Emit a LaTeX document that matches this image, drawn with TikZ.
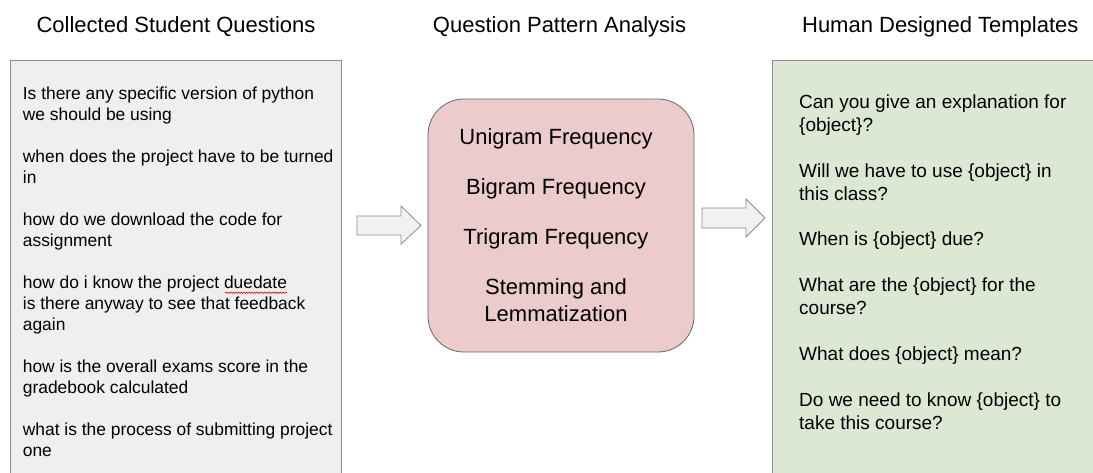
\documentclass[tikz,border=0pt]{standalone}
\usepackage{fontspec}
\setmainfont{Liberation Sans}
\usetikzlibrary{decorations.pathmorphing}
\definecolor{leftfill}{HTML}{EFEFEF}
\definecolor{midfill}{HTML}{EBCBCB}
\definecolor{rightfill}{HTML}{DCE8D4}
\definecolor{boxline}{HTML}{8C8C8C}
\definecolor{arrfill}{HTML}{F1F1F1}
\begin{document}
\begin{tikzpicture}[x=1pt,y=-1pt,
  title/.style={font=\fontsize{22}{26}\selectfont, anchor=base, inner sep=0pt},
  panel/.style={draw=boxline, line width=1pt},
  blockarrow/.style={draw=boxline, fill=arrfill, line width=0.8pt, line join=miter},
  lefttext/.style={font=\fontsize{17.4}{21.0}\selectfont, align=left, anchor=base west, inner sep=0pt},
  righttext/.style={font=\fontsize{19}{22.93}\selectfont, align=left, anchor=base west, inner sep=0pt},
  midtext/.style={font=\fontsize{22}{27.3}\selectfont, align=center, anchor=base, inner sep=0pt}]
\useasboundingbox (0,0) rectangle (1093,472);
\clip (0,0) rectangle (1093,472);
\fill[white] (0,0) rectangle (1093,472);

% titles
\node[title] (t1) at (176,32) {Collected Student Questions};
\node[title] (t2) at (559.5,32) {Question Pattern Analysis};
\node[title] (t3) at (940.3,32) {Human Designed Templates};

% panels
\path[panel, fill=leftfill] (10.7,60.7) rectangle (341.7,480);
\path[panel, fill=rightfill] (772,60.7) rectangle (1100,480);
\path[draw=black!60, fill=midfill, line width=0.8pt, rounded corners=36pt] (428,99) rectangle (694,352);

% left text (anchored at the baseline of its last line)
\node[lefttext] (lq) at (22.7,456.7) {Is there any specific version of python\\
we should be using\\[21.0pt]
when does the project have to be turned\\
in\\[21.0pt]
how do we download the code for\\
assignment\\[21.0pt]
how do i know the project duedate\\
is there anyway to see that feedback\\
again\\[21.0pt]
how is the overall exams score in the\\
gradebook calculated\\[21.0pt]
what is the process of submitting project\\
one};

% spell-check squiggle
\draw[red!85!black, line width=0.5pt, decorate, decoration={snake, amplitude=0.8pt, segment length=2.6pt}] (225,292.7) -- (287,292.7);

% middle text
\node[midtext] (mt) at (556,321.7) {Unigram Frequency\\[22.7pt]
Bigram Frequency\\[22.7pt]
Trigram Frequency\\[22.7pt]
Stemming and\\
Lemmatization};

% right text
\node[righttext] (rt) at (799,429.3) {Can you give an explanation for\\
\{object\}?\\[22.93pt]
Will we have to use \{object\} in\\
this class?\\[22.93pt]
When is \{object\} due?\\[22.93pt]
What are the \{object\} for the\\
course?\\[22.93pt]
What does \{object\} mean?\\[22.93pt]
Do we need to know \{object\} to\\
take this course?};

% block arrows
\path[blockarrow] (357,216) -- (401,216) -- (401,206) -- (421,225.5) -- (401,244) -- (401,235) -- (357,235) -- cycle;
\path[blockarrow] (702,208) -- (746,208) -- (746,199) -- (765,218) -- (746,237) -- (746,228) -- (702,228) -- cycle;
\end{tikzpicture}
\end{document}
